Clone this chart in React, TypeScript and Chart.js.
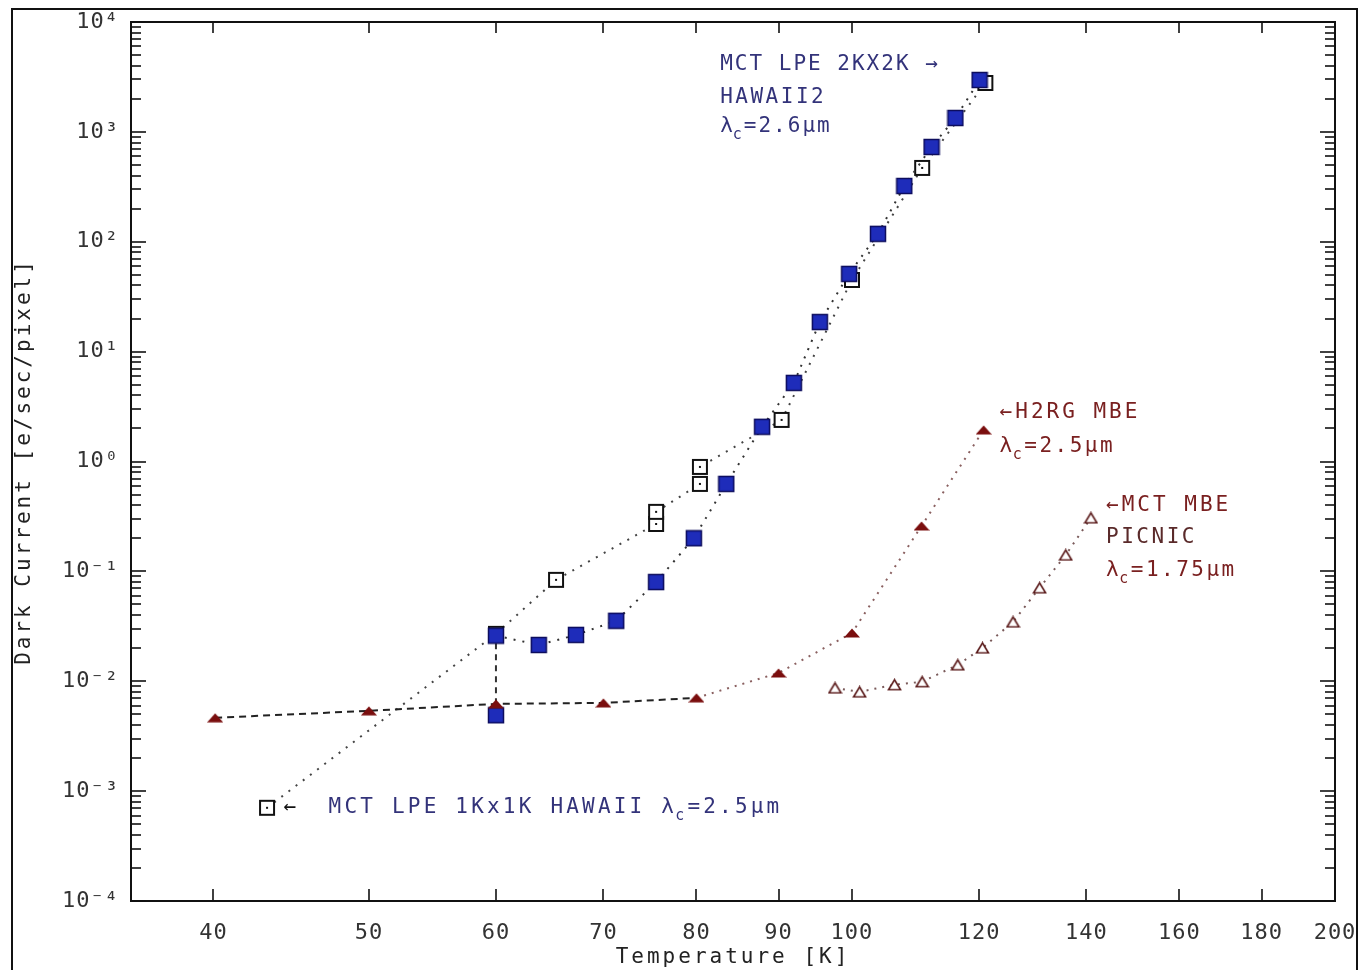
import React, { useEffect, useRef } from 'react';
import { Chart, registerables } from 'chart.js';

Chart.register(...registerables);

// ---------- data ----------
// MCT LPE 2Kx2K HAWAII2 (filled blue squares)
const lpe2kTemps = [60, 60, 63.8, 67.3, 71.3, 75.5, 79.7, 83.5, 87.9, 92.0, 95.5, 99.6, 103.8, 107.8, 112.1, 116.0, 120.1];
const lpe2kCurrent = [0.0049, 0.026, 0.0214, 0.0264, 0.0355, 0.080, 0.20, 0.625, 2.07, 5.19, 18.6, 51, 118, 322, 729, 1338, 2967];

// MCT LPE 1Kx1K HAWAII (open squares)
const lpe1kTemps = [43.2, 60, 65.4, 75.5, 75.5, 80.4, 80.4, 90.4, 100, 110.6, 121.1];
const lpe1kCurrent = [7.05e-4, 0.027, 0.0837, 0.27, 0.348, 0.625, 0.893, 2.39, 44.9, 470, 2786];

// H2RG MBE (filled triangles)
const h2rgTemps = [40.1, 50, 60, 70, 80, 90, 100, 110.5, 120.8];
const h2rgCurrent = [0.00465, 0.00538, 0.00622, 0.00635, 0.00706, 0.0119, 0.0275, 0.259, 1.94];

// MCT MBE PICNIC (open triangles)
const picnicTemps = [97.6, 101.1, 106.3, 110.6, 116.4, 120.6, 126.0, 130.9, 135.9, 140.9];
const picnicCurrent = [0.0087, 0.0080, 0.0093, 0.0099, 0.0141, 0.0201, 0.0347, 0.0708, 0.141, 0.307];

// axes
const xTickValues = [40, 50, 60, 70, 80, 90, 100, 120, 140, 160, 180, 200];
const yDecades = [1e-4, 1e-3, 1e-2, 1e-1, 1, 10, 100, 1000, 10000];
const yTickLabels = ['10⁻⁴', '10⁻³', '10⁻²', '10⁻¹', '10⁰', '10¹', '10²', '10³', '10⁴'];
const yMinorMultipliers = [2, 3, 4, 5, 6, 7, 8, 9];
const xMin = 35.54;
const xMax = 200;

const xTitle = 'Temperature [K]';
const yTitle = 'Dark Current [e/sec/pixel]';

// annotations (anchored in data coordinates; runs offset in px)
const BLUE = '#33337a';
const RED = '#7a2020';
const notes = [
  {
    T: 82.77, V: 4062,
    runs: [
      { text: 'MCT LPE 2KX2K →', dx: 0, dy: 0, color: BLUE, sp: 2 },
      { text: 'HAWAII2', dx: 0, dy: 33, color: BLUE, sp: 2.5 },
      { text: 'λ_c=2.6μm', dx: 0, dy: 62, color: BLUE, sp: 2 },
    ],
  },
  {
    T: 44.24, V: 7.05e-4,
    runs: [
      { text: '←', dx: 0, dy: 0, color: '#111', sp: 0 },
      { text: 'MCT LPE 1Kx1K HAWAII λ_c=2.5μm', dx: 45, dy: 0, color: BLUE, sp: 3.2 },
    ],
  },
  {
    T: 123.6, V: 2.77,
    runs: [
      { text: '←H2RG MBE', dx: 0, dy: 0, color: RED, sp: 3 },
      { text: 'λ_c=2.5μm', dx: 0, dy: 34, color: RED, sp: 2.5 },
    ],
  },
  {
    T: 144.0, V: 0.394,
    runs: [
      { text: '←MCT MBE', dx: 0, dy: 0, color: RED, sp: 3 },
      { text: 'PICNIC', dx: 0, dy: 32, color: '#5a2a2a', sp: 2.5 },
      { text: 'λ_c=1.75μm', dx: 0, dy: 65, color: RED, sp: 2.5 },
    ],
  },
];

const FONT = 'DejaVu Sans Mono';

function makeMarker(w: number, h: number, draw: (c: CanvasRenderingContext2D) => void) {
  const c = document.createElement('canvas');
  c.width = w;
  c.height = h;
  const ctx = c.getContext('2d')!;
  draw(ctx);
  return c;
}

function drawRich(ctx: CanvasRenderingContext2D, text: string, x: number, y: number) {
  const parts = text.split('_c');
  let cx = x;
  parts.forEach((p, i) => {
    if (i > 0) {
      ctx.font = `15px "${FONT}"`;
      ctx.fillText('c', cx - 2, y + 8);
      cx += ctx.measureText('c').width - 2;
      ctx.font = `21px "${FONT}"`;
    }
    ctx.fillText(p, cx, y);
    cx += ctx.measureText(p).width;
  });
}

export default function App() {
  const ref = useRef<HTMLCanvasElement>(null);

  useEffect(() => {
    const blueSq = makeMarker(18, 18, (c) => {
      c.fillStyle = '#1e2cba';
      c.strokeStyle = '#0d0d5e';
      c.lineWidth = 1.5;
      c.fillRect(1, 1, 16, 16);
      c.strokeRect(1.5, 1.5, 15, 15);
    });
    const openSq = makeMarker(18, 18, (c) => {
      c.fillStyle = '#fff';
      c.fillRect(1, 1, 16, 16);
      c.strokeStyle = '#111';
      c.lineWidth = 2;
      c.strokeRect(2, 2, 14, 14);
      c.fillStyle = '#111';
      c.fillRect(8, 8, 2, 2);
    });
    const fillTri = makeMarker(16, 10, (c) => {
      c.fillStyle = '#7a0e0e';
      c.beginPath();
      c.moveTo(0, 9.5);
      c.lineTo(8, 0.5);
      c.lineTo(16, 9.5);
      c.closePath();
      c.fill();
    });
    const openTri = makeMarker(15, 13, (c) => {
      c.fillStyle = '#fff';
      c.strokeStyle = '#5a1a1a';
      c.lineWidth = 1.6;
      c.beginPath();
      c.moveTo(1.5, 11.5);
      c.lineTo(7.5, 1.5);
      c.lineTo(13.5, 11.5);
      c.closePath();
      c.fill();
      c.stroke();
    });

    const pts = (xs: number[], ys: number[]) => xs.map((x, i) => ({ x, y: ys[i] }));

    const framePlugin = {
      id: 'frame',
      beforeDraw(chart: any) {
        const ctx = chart.ctx;
        ctx.save();
        ctx.fillStyle = '#fff';
        ctx.fillRect(0, 0, chart.width, chart.height);
        ctx.strokeStyle = '#111';
        ctx.lineWidth = 2;
        ctx.beginPath();
        ctx.moveTo(12, 1000);
        ctx.lineTo(12, 9);
        ctx.lineTo(1357, 9);
        ctx.lineTo(1357, 1000);
        ctx.stroke();
        ctx.restore();
        // axis titles (drawn before datasets) use wider spacing
        (ctx as any).letterSpacing = '3px';
      },
      beforeDatasetsDraw(chart: any) {
        // tick labels are drawn after datasets (ticks.z = 1)
        (chart.ctx as any).letterSpacing = '1px';
      },
      afterDatasetsDraw(chart: any) {
        const ctx = chart.ctx;
        const xs = chart.scales.x;
        const ys = chart.scales.y;
        ctx.save();
        ctx.textBaseline = 'middle';
        ctx.textAlign = 'left';
        ctx.font = `21px "${FONT}"`;
        for (const n of notes) {
          const x0 = xs.getPixelForValue(n.T);
          const y0 = ys.getPixelForValue(n.V);
          for (const r of n.runs) {
            (ctx as any).letterSpacing = `${r.sp}px`;
            ctx.fillStyle = r.color;
            drawRich(ctx, r.text, x0 + r.dx, y0 + r.dy);
          }
        }
        ctx.restore();
      },
      afterDraw(chart: any) {
        const ctx = chart.ctx;
        const { left, right, top, bottom } = chart.chartArea;
        const xs = chart.scales.x;
        const ys = chart.scales.y;
        ctx.save();
        (ctx as any).letterSpacing = '0px';
        ctx.strokeStyle = '#111';
        ctx.lineWidth = 2;
        ctx.strokeRect(left, top, right - left, bottom - top);
        ctx.lineWidth = 1.6;
        const line = (a: number, b: number, c: number, d: number) => {
          ctx.beginPath();
          ctx.moveTo(a, b);
          ctx.lineTo(c, d);
          ctx.stroke();
        };
        for (const v of xTickValues) {
          const x = Math.round(xs.getPixelForValue(v));
          if (x >= right - 2) continue;
          line(x, bottom, x, bottom - 12);
          line(x, top, x, top + 11);
        }
        for (let i = 0; i < yDecades.length; i++) {
          const d = yDecades[i];
          const y = Math.round(ys.getPixelForValue(d));
          line(left, y, left + 15, y);
          line(right, y, right - 15, y);
          if (i === yDecades.length - 1) break;
          for (const m of yMinorMultipliers) {
            const ym = Math.round(ys.getPixelForValue(d * m));
            line(left, ym, left + 10, ym);
            line(right, ym, right - 10, ym);
          }
        }
        ctx.restore();
      },
    };

    const tickFont = { family: FONT, size: 22 };
    const titleFont = { family: FONT, size: 21 };

    const chart = new Chart(ref.current!, {
      type: 'line',
      data: {
        datasets: [
          {
            label: 'H2RG MBE',
            data: pts(h2rgTemps, h2rgCurrent),
            showLine: true,
            borderColor: '#222',
            borderWidth: 2,
            segment: {
              borderDash: (c: any) => (c.p0DataIndex < 4 ? [7, 5] : [2, 6]),
              borderColor: (c: any) => (c.p0DataIndex < 4 ? '#222' : '#8a6060'),
            },
            pointStyle: fillTri as any,
            pointRadius: 8,
            fill: false,
          },
          {
            label: 'MCT MBE PICNIC',
            data: pts(picnicTemps, picnicCurrent),
            showLine: true,
            borderColor: '#7a5a5a',
            borderWidth: 2,
            borderDash: [2, 6],
            pointStyle: openTri as any,
            pointRadius: 7,
            fill: false,
          },
          {
            label: 'MCT LPE 2Kx2K HAWAII2',
            data: pts(lpe2kTemps, lpe2kCurrent),
            showLine: true,
            borderColor: '#333',
            borderWidth: 2,
            segment: {
              borderDash: (c: any) => (c.p0DataIndex === 0 ? [6, 5] : [2, 7]),
            },
            pointStyle: blueSq as any,
            pointRadius: 9,
            fill: false,
          },
          {
            label: 'MCT LPE 1Kx1K HAWAII',
            data: pts(lpe1kTemps, lpe1kCurrent),
            showLine: true,
            borderColor: '#444',
            borderWidth: 2,
            borderDash: [2, 7],
            pointStyle: openSq as any,
            pointRadius: 9,
            fill: false,
          },
        ],
      },
      options: {
        responsive: false,
        animation: false,
        parsing: false as any,
        layout: { padding: { top: 22, right: 25, left: 0, bottom: 0 } },
        plugins: {
          legend: { display: false },
          tooltip: { enabled: false },
        },
        scales: {
          x: {
            type: 'logarithmic',
            position: 'bottom',
            min: xMin,
            max: xMax,
            grid: { display: false, drawTicks: false },
            border: { display: false },
            afterBuildTicks: (s: any) => {
              s.ticks = xTickValues.map((v) => ({ value: v }));
            },
            afterFit: (s: any) => {
              s.height = 69;
              s.paddingLeft = 0;
              s.paddingRight = 0;
            },
            ticks: {
              z: 1,
              autoSkip: false,
              maxRotation: 0,
              minRotation: 0,
              padding: 19,
              color: '#333',
              font: tickFont,
              callback: (_v: any, i: number) => String(xTickValues[i]),
            },
            title: {
              display: true,
              text: xTitle,
              color: '#222',
              font: titleFont,
              padding: { top: 0, bottom: 0 },
            },
          },
          y: {
            type: 'logarithmic',
            position: 'left',
            min: 1e-4,
            max: 1e4,
            grid: { display: false, drawTicks: false },
            border: { display: false },
            afterBuildTicks: (s: any) => {
              s.ticks = yDecades.map((v) => ({ value: v }));
            },
            afterFit: (s: any) => {
              s.width = 131;
              s.paddingTop = 0;
              s.paddingBottom = 0;
            },
            ticks: {
              z: 1,
              autoSkip: false,
              padding: 12,
              color: '#333',
              font: tickFont,
              callback: (_v: any, i: number) => yTickLabels[i],
            },
            title: {
              display: true,
              text: yTitle,
              color: '#222',
              font: titleFont,
              padding: { top: 12, bottom: 12 },
            },
          },
        },
      } as any,
      plugins: [framePlugin],
    });
    return () => chart.destroy();
  }, []);

  return (
    <div style={{ position: 'fixed', left: 0, top: 0, width: 1360, height: 970, background: '#fff' }}>
      <canvas ref={ref} width={1360} height={970} style={{ display: 'block', width: 1360, height: 970 }} />
    </div>
  );
}
